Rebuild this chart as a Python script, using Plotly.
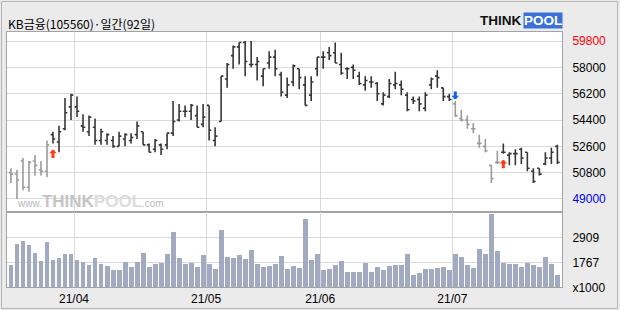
import plotly.graph_objects as go

# ---------------- data (KB금융 daily, 92 trading days: 2021-03-17 .. 2021-07-26) ----------------
opens = [50800, 50700, 51600, 49800, 51600, 51000, 50900, 53400, 52900, 53800,
         55300, 55300, 54000, 53600, 53900, 53000, 53000, 53000, 52600, 53100,
         53000, 53400, 53600, 52700, 52400, 52700, 52700, 53500, 54400, 55000,
         55000, 54700, 54100, 55400, 53000, 54300, 57200, 58800, 59400, 59700,
         58200, 58200, 57400, 58300, 58700, 57500, 56100, 57000, 57900, 56800,
         56100, 57900, 58700, 59000, 59000, 58200, 57900, 58000, 57400, 56800,
         57000, 56900, 55500, 56000, 56800, 56800, 56100, 55800, 55800, 55200,
         56800, 57400, 56600, 56000, 55500, 54500, 54400, 53800, 52800, 52600,
         51300, 51500, 52200, 52000, 52100, 52400, 52200, 50900, 51100, 51400,
         51800, 52600]
highs = [51100, 51000, 51800, 51600, 52000, 51600, 53000, 53600, 54000, 55900,
         56200, 56000, 54800, 54700, 54500, 53800, 53500, 53300, 53600, 53500,
         53500, 54300, 53600, 52800, 53100, 52800, 53500, 55700, 55500, 55400,
         55500, 55400, 55500, 55400, 53900, 57400, 58300, 59500, 59700, 59800,
         59800, 58700, 57900, 59100, 59200, 57700, 57300, 58200, 57900, 57400,
         57400, 58700, 59100, 59400, 59700, 59000, 58000, 58200, 57700, 57400,
         57400, 57000, 56300, 57200, 57700, 57100, 56300, 56000, 56000, 56300,
         57300, 57800, 56600, 56200, 55700, 55100, 54700, 54200, 53400, 53100,
         51300, 52300, 52800, 52200, 52400, 52500, 52200, 51100, 51100, 52200,
         52500, 52700]
lows = [50100, 49000, 49600, 49500, 50600, 50600, 50500, 52800, 52200, 53700,
        54400, 54600, 53600, 53300, 52700, 52700, 52700, 52500, 52600, 52600,
        52800, 53100, 52700, 52200, 52200, 52000, 52400, 53300, 54300, 54600,
        54400, 53900, 53900, 53000, 52600, 54300, 56600, 57900, 58200, 57400,
        58000, 57100, 56700, 57900, 57400, 56000, 55900, 56700, 56500, 55400,
        55700, 57400, 57900, 58500, 58300, 57500, 57200, 57200, 56800, 56400,
        56600, 55700, 55400, 55900, 56500, 56100, 55000, 55500, 55000, 55000,
        56500, 56600, 55700, 55700, 54600, 54300, 53800, 53500, 52500, 52200,
        50100, 51400, 52100, 51300, 51300, 51400, 50900, 50100, 50600, 51300,
        51400, 51400]
closes = [50700, 50300, 49800, 51500, 51300, 50900, 52700, 53100, 53600, 54900,
          56100, 55000, 53900, 54600, 53000, 53600, 53400, 52600, 53300, 53400,
          53200, 54000, 52700, 52200, 53000, 52400, 53500, 54300, 55000, 55000,
          55400, 53900, 54600, 53700, 53300, 57400, 58200, 59400, 59700, 58400,
          58200, 58400, 57900, 58700, 57900, 56300, 56800, 58100, 57300, 55400,
          57000, 58700, 58700, 58800, 58300, 57600, 57900, 57800, 56900, 57100,
          57000, 56200, 56100, 56900, 56900, 56500, 55100, 55700, 55500, 56100,
          57200, 57300, 56000, 55800, 54700, 54400, 54100, 53800, 52800, 52300,
          50400, 51500, 52200, 52100, 52100, 51800, 51100, 50200, 50700, 51800,
          52200, 51500]
volumes = [1645, 2605, 2742, 2559, 2193, 1828, 2696, 1874, 1965, 2148,
           2140, 1880, 1752, 1645, 1965, 1691, 1600, 1417, 1410, 1782,
           1554, 1790, 2193, 1560, 1691, 1700, 2148, 3153, 1965, 1691,
           1737, 1554, 2102, 1691, 1462, 3244, 2011, 1965, 2102, 1919,
           2330, 1691, 1554, 1600, 1691, 2056, 1462, 1600, 1508, 3747,
           1874, 2148, 1417, 1462, 1645, 1828, 1325, 1320, 1330, 1737,
           1325, 1554, 1417, 1600, 1645, 1650, 2148, 1188, 1280, 1462,
           1465, 1508, 1554, 1417, 2148, 2011, 1645, 1508, 2376, 2148,
           3975, 2285, 1737, 1691, 1695, 1554, 1737, 1645, 1554, 2011,
           1691, 1188]

month_labels = ["21/04", "21/05", "21/06", "21/07"]
month_first_bar = [11, 33, 52, 74]
buy_signals = [7, 82]
sell_signals = [74]
price_ticks = [49000, 50800, 52600, 54400, 56200, 58000, 59800]
vol_ticks = [625, 1767, 2909]
vol_tick_text = ["x1000", "1767", "2909"]

# ---------------- styling ----------------
W, H = 620, 310
BG = "#ebebeb"
GRID = "#d9d9d9"
FRAME = "#a3a3a3"
DARK = "#363636"
LIGHT = "#9a9a9a"
VOLC = "#a2aac2"
FONT = "Liberation Sans Narrow, Liberation Sans, Arial, sans-serif"

def px_x(p):
    return p / W

def px_y(p):
    return 1 - p / H

n = len(closes)
idx = list(range(n))

# holding state from signals: gray until a buy, dark after buy, gray after sell
events = {i: "buy" for i in buy_signals}
events.update({i: "sell" for i in sell_signals})
state = "out"
holding = []
for i in idx:
    if i in events:
        state = "in" if events[i] == "buy" else "out"
    holding.append(state == "in")

fig = go.Figure()
for flag, col in [(False, LIGHT), (True, DARK)]:
    sel = [i for i in idx if holding[i] == flag]
    fig.add_trace(go.Ohlc(
        x=sel,
        open=[opens[i] for i in sel], high=[highs[i] for i in sel],
        low=[lows[i] for i in sel], close=[closes[i] for i in sel],
        increasing=dict(line=dict(color=col, width=1.6)),
        decreasing=dict(line=dict(color=col, width=1.6)),
        tickwidth=0.38, xaxis="x", yaxis="y", hoverinfo="skip", showlegend=False))

fig.add_trace(go.Bar(x=idx, y=volumes, marker=dict(color=VOLC, line=dict(width=0)),
                     width=0.82, xaxis="x2", yaxis="y2", hoverinfo="skip", showlegend=False))

xr = [-0.66, 91.77]
grid_x = [m - 0.5 for m in month_first_bar]
xdom = [px_x(7), px_x(562)]
price_dom = [px_y(212.3), px_y(31.7)]
vol_dom = [px_y(287.3), px_y(212.3)]

def colored(v):
    if v == max(highs):
        return f"<span style='color:#ff0000'>{v}</span>"
    if v == min(lows):
        return f"<span style='color:#0000ee'>{v}</span>"
    return str(v)

common_x = dict(domain=xdom, range=xr, tickvals=grid_x, showgrid=True, gridcolor=GRID,
                gridwidth=1, zeroline=False, showline=True, mirror=True, linecolor=FRAME,
                linewidth=1, ticks="", fixedrange=True, automargin=False)
fig.update_layout(
    width=W, height=H, autosize=False,
    margin=dict(l=0, r=0, t=0, b=0, pad=0, autoexpand=False),
    paper_bgcolor=BG, plot_bgcolor="white",
    font=dict(family=FONT, size=12, color="#000000"),
    bargap=0,
    xaxis=dict(**common_x, anchor="y", showticklabels=False, rangeslider=dict(visible=False)),
    xaxis2=dict(**common_x, anchor="y2", matches="x", ticktext=month_labels, showticklabels=True,
                tickfont=dict(size=12), rangeslider=dict(visible=False)),
    yaxis=dict(domain=price_dom, range=[48089, 60438], side="right", anchor="x",
               tickvals=price_ticks, ticktext=[colored(v) for v in price_ticks],
               showgrid=True, gridcolor=GRID, zeroline=False, showline=True, mirror=True,
               linecolor=FRAME, ticks="", ticklabelstandoff=7, fixedrange=True,
               tickfont=dict(size=12), automargin=False),
    yaxis2=dict(domain=vol_dom, range=[625, 4051], side="right", anchor="x2",
                tickvals=vol_ticks, ticktext=vol_tick_text,
                showgrid=True, gridcolor=GRID, zeroline=False, showline=True, mirror=True,
                linecolor=FRAME, ticks="", ticklabelstandoff=7, fixedrange=True,
                tickfont=dict(size=12), automargin=False),
)

ann = []
# signal arrows
for i in buy_signals:
    ann.append(dict(x=i, y=lows[i], xref="x", yref="y", text="", showarrow=True,
                    ax=0, ay=16, standoff=6, arrowhead=1, arrowsize=0.42, arrowwidth=3,
                    arrowcolor="#ff3a10"))
for i in sell_signals:
    ann.append(dict(x=i, y=highs[i], xref="x", yref="y", text="", showarrow=True,
                    ax=0, ay=-11, standoff=1.5, arrowhead=1, arrowsize=0.42, arrowwidth=3,
                    arrowcolor="#1a5ee8"))
# title
ann.append(dict(x=px_x(6), y=px_y(23.5), xref="paper", yref="paper", xanchor="left",
                yanchor="middle", showarrow=False, text="KB금융(105560)·일간(92일)",
                font=dict(family="Noto Sans CJK KR", size=12, color="#000")))
# logo
ann.append(dict(x=px_x(523), y=px_y(20.5), xref="paper", yref="paper", xanchor="right",
                yanchor="middle", showarrow=False, text="<b>THINK</b>",
                font=dict(family="Liberation Sans", size=13.5, color="#111")))
ann.append(dict(x=px_x(523), y=px_y(20.5), xref="paper", yref="paper", xanchor="left",
                yanchor="middle", showarrow=False, text="<b>POOL</b>", bgcolor="#3a70d8",
                borderpad=0, font=dict(family="Liberation Sans", size=13.5, color="#ffffff")))
# watermark
ann.append(dict(x=px_x(91), y=px_y(213), xref="paper", yref="paper", xanchor="center",
                yanchor="bottom", showarrow=False,
                text="<span style='font-size:10px;color:#b8b8b8'>www.</span>"
                     "<span style='font-size:17px;color:#c4c4c4'><b>THINK</b></span>"
                     "<span style='font-size:17px;color:#dcdcdc'><b>POOL</b></span>"
                     "<span style='font-size:10px;color:#b8b8b8'>.com</span>",
                font=dict(family="Liberation Sans", size=10)))
fig.update_layout(annotations=ann)

# outer frame
fig.add_shape(type="rect", xref="paper", yref="paper", x0=px_x(1.5), x1=px_x(617.5),
              y0=px_y(308.5), y1=px_y(1.5), line=dict(color="#b4b4b4", width=1), layer="below")

fig.write_html("out.html")
